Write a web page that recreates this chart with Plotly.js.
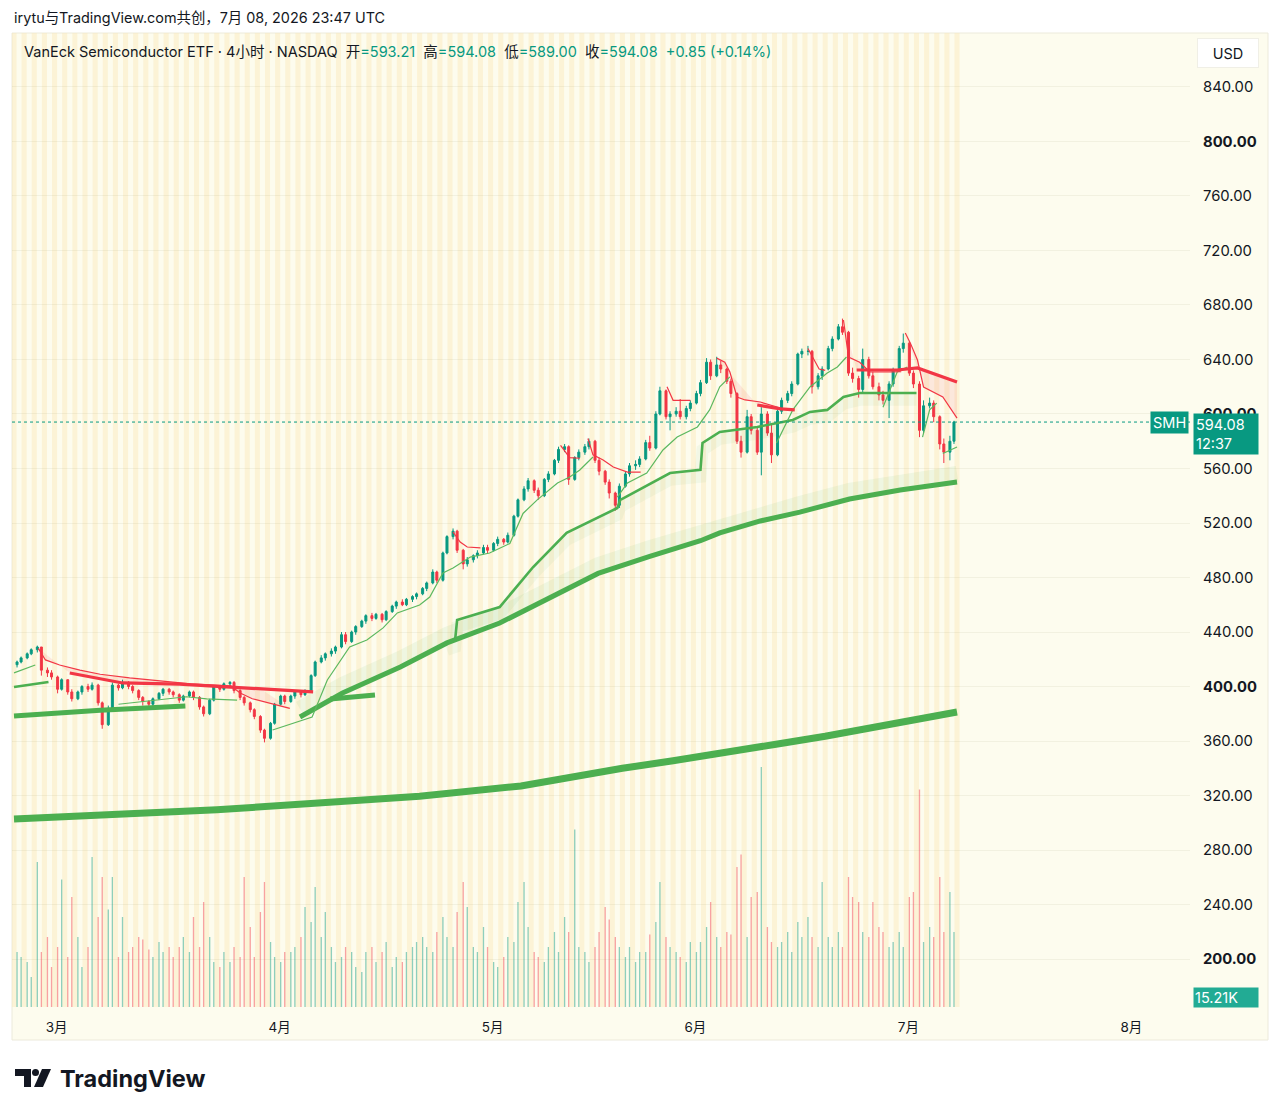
<!DOCTYPE html>
<html><head><meta charset="utf-8">
<script src="https://cdn.plot.ly/plotly-3.0.1.min.js"></script>
<style>html,body{margin:0;padding:0;background:#fff;}#chart{width:1280px;height:1115px;}</style>
</head><body><div id="chart"></div>
<script>
// ---------- DATA (4h-ish candles, two per trading day) ----------
const openP = [
416,418,421,424,427,429,412,410,407,398,
405,396,391,396,400,398,401,388,372,384,
401,399,403,400,397,392,389,387,391,395,
398,396,394,390,393,396,392,385,380,390,
400,398,402,403,397,392,388,383,378,368,
362,373,387,393,389,393,396,394,397,408,
418,421,424,426,429,438,433,440,444,448,
452,450,453,449,455,459,462,460,464,466,
468,472,476,484,478,498,510,514,500,490,
493,496,498,502,500,505,508,506,511,525,
537,545,551,544,540,552,556,566,574,576,
552,568,572,576,580,566,558,550,542,533,
547,556,562,563,567,579,575,600,617,598,
600,602,598,604,608,615,623,638,628,636,
633,624,615,580,572,598,588,572,600,586,
570,602,610,615,622,644,646,646,620,628,
633,648,655,664,660,630,626,618,640,628,
620,614,610,622,632,648,652,630,622,588,
606,608,598,578,572,580];
const highP = [
419,422,425,428,430,429,414,412,408,406,
405,398,397,401,402,403,402,389,386,403,
402,405,404,401,398,393,390,392,396,399,
399,397,395,394,397,397,393,386,391,401,
401,403,404,404,398,393,389,384,379,369,
374,388,394,394,394,397,397,398,409,419,
423,425,428,430,440,440,441,445,449,453,
454,454,454,456,460,463,464,465,467,469,
473,477,486,485,499,511,516,515,501,495,
497,500,504,504,506,510,509,513,526,538,
547,553,552,546,553,558,567,576,578,577,
569,574,578,582,581,568,559,552,543,549,
558,564,566,569,581,584,602,620,618,602,
605,611,606,610,617,625,641,640,642,639,
634,626,616,584,603,600,590,605,602,593,
604,612,617,624,645,648,650,647,630,635,
650,657,666,670,661,634,628,648,642,631,
623,617,624,634,650,659,653,632,624,610,
612,610,599,582,584,595];
const lowP = [
414,417,420,423,425,408,407,405,395,397,
394,389,390,394,396,397,386,369,371,383,
397,398,398,395,390,386,384,385,390,393,
394,392,388,389,392,390,383,378,379,389,
396,397,400,395,390,386,381,376,366,359,
361,372,386,387,388,391,392,393,396,407,
417,419,422,424,428,431,432,438,443,446,
448,449,447,448,454,457,459,459,462,464,
467,470,475,476,477,497,508,498,486,488,
491,494,497,498,499,503,504,505,510,524,
536,543,542,537,539,550,555,564,572,548,
551,566,570,574,564,555,548,538,529,531,
546,554,559,561,566,573,574,599,596,588,
598,596,596,602,607,613,622,625,627,630,
622,612,578,568,571,585,570,555,584,564,
569,600,608,613,621,641,643,615,618,625,
632,646,654,658,628,623,612,616,626,618,
610,607,597,620,631,645,628,619,583,586,
604,594,574,564,566,578];
const closeP = [
418,421,424,427,429,412,410,407,398,405,
396,391,396,400,398,401,388,372,384,401,
399,403,400,397,392,389,387,391,395,398,
396,394,390,393,396,392,385,380,390,400,
398,402,403,397,392,388,383,378,368,362,
373,387,393,389,393,396,394,397,408,418,
421,424,426,429,438,433,440,444,448,452,
450,453,449,455,459,462,460,464,466,468,
472,476,484,478,498,510,514,500,490,493,
496,498,502,500,505,508,506,511,525,537,
545,551,544,540,552,556,566,574,576,552,
568,572,576,580,566,558,550,542,533,547,
556,562,563,567,579,575,600,617,598,600,
602,598,604,608,615,623,638,628,636,633,
624,615,580,572,598,588,572,600,586,570,
602,610,615,622,644,646,646,620,628,633,
648,655,664,660,630,626,618,640,628,620,
614,610,622,632,648,652,630,622,588,606,
608,598,578,572,580,594.08];
// volume, millions of shares
const volumeM = [
2.2,2.0,1.8,1.2,5.8,2.2,2.8,1.6,2.4,5.1,
2.0,4.4,2.8,1.6,2.4,6.0,3.6,5.2,3.9,5.2,
2.0,3.6,2.2,2.4,2.8,2.7,2.3,2.0,2.6,2.2,
2.4,2.0,2.4,2.8,2.2,3.6,2.4,4.2,2.8,1.8,
1.6,2.2,1.8,2.4,2.0,5.2,3.2,2.0,3.8,5.0,
2.6,2.0,1.8,2.2,2.2,2.4,2.8,4.0,3.4,4.8,
2.8,3.8,2.4,1.8,2.0,2.4,2.2,1.6,1.4,2.2,
2.4,1.8,2.2,2.6,1.6,2.0,1.8,2.2,2.4,2.6,
2.8,2.4,2.2,3.0,3.6,2.8,2.4,3.8,5.0,4.0,
2.4,2.2,3.2,2.4,1.8,1.6,2.0,2.8,2.6,4.2,
5.0,3.2,2.2,2.0,1.8,2.4,3.0,2.2,3.6,3.0,
7.1,2.4,2.2,1.8,2.4,3.0,4.0,3.5,2.8,2.4,
2.0,2.4,1.8,2.2,2.2,2.9,3.4,5.0,2.8,2.4,
2.2,2.0,1.8,2.6,2.2,2.6,3.2,4.2,2.8,2.4,
3.0,2.9,5.6,6.1,2.8,4.4,4.6,9.6,3.2,2.6,
2.4,2.6,3.0,2.2,3.4,2.8,3.6,2.8,2.4,5.0,
2.8,2.4,3.0,2.4,5.2,4.4,4.2,3.0,2.8,4.2,
3.2,3.0,2.4,2.6,3.0,2.4,4.4,4.6,8.7,2.6,
3.2,2.8,5.2,3.0,4.6,3.0];

// indicator lines (x = trading-day index, null = gap)
const maLongDays = [0,10,20,30,40,50,55,60,65,70,75,80,85,90,93];
const maLongVals = [302.7,305.5,309.5,314.5,319.5,327,334,340,345.5,351,357.5,363.5,370,376.5,381.3];
const maSlowDays = [28.2,32.4,38.1,42.7,47.9,52.9,57.6,62.7,67.7,69.6,73.6,77.5,82.4,87.4,93];
const maSlowVals = [377.6,395.2,414.3,432,446.6,465,483,495.5,507,512.7,521.5,528,537.6,544.2,550.1];
const maLeftDays = [0,8.5,16.9,null,31.2,35.6];
const maLeftVals = [378.3,382.6,385.7,null,390.9,393.8];
const midLeftDays = [0,3.4];
const midLeftVals = [399.6,403.3];
const midStopDays = [42.7,43.5,43.7,47.9,51.2,54.5,59.5,59.8,64.7,67.7,67.9,69.6,73.3,76.8,78.5,80.2,81.8,83.4,89];
const midStopVals = [432,434,448.8,458.3,487.7,512.7,531,537,556.7,559,578.7,586.8,590.5,595.6,601.5,603,612.5,615.4,615.4];
const fastUpDays = [0,1,2.1,null,10.3,13,15,17,19,22,null,
  25.5,29.4,30.9,33.1,34.8,36.4,37.8,40,41,42.3,43.3,45,46.9,48.9,50.2,51.6,53.6,54.8,55.8,57.1,null,
  59.5,60.5,62.4,64,65.4,67.4,68.6,69.6,70.6,null,75.2,76.8,78.5,80.2,81.2,82.1,null,
  85.7,87.1,88.1,null,89.6,90.3,91,null,91.6,93];
const fastUpVals = [410,413,415.8,null,387,389,391,392.5,391,390,null,
  368.1,377.6,404.8,429,434.1,443,454,459.8,465.7,483.3,487,495,498,505,527,537,549.4,553.8,558.9,568.4,null,
  539,549.4,556.7,573.6,583.1,590.5,603,620,627.2,null,578.7,603,619.8,630.1,634.5,641.8,null,
  605,630.8,634.5,null,583,603,608,null,571,575.8];
const fastDownDays = [2.4,3.1,4.5,6.5,8.5,11.4,14.4,17.4,21.3,null,
  21.3,22.3,23.5,24.8,26,27.2,null,43.3,44,44.7,46,null,53.9,54.8,55.8,null,
  56.6,57.1,58.1,59.1,60.5,61.8,null,64.4,65,66.7,null,
  69.3,70.1,70.6,71.3,72.1,73.6,75.6,76.8,null,78.3,78.8,79.4,80,null,
  81.8,82.3,83.4,84.4,86.4,87.5,null,87.9,88.4,89.1,89.7,91.6,93];
const fastDownVals = [428,419.5,415.8,412,409,406.3,404.2,402,400.4,null,
  401,395.2,391,388.6,386,384,null,513.4,506,502.4,501.7,null,577,568,567.5,null,
  582,570,566.2,561.1,557.4,557.4,null,620,610,610,null,
  641,638,630.8,612.5,610.3,608.8,604.4,603,null,648,641,633,632,null,
  669,641.8,638,630.8,630.8,631,null,659.4,652,639.6,619.8,612.5,597];
const slowDownDays = [5.5,8,10.7,16.3,19.5,24.2,29.5,null,73.3,75.6,77,null,83.1,87.1,89.1,91.6,93];
const slowDownVals = [409.9,406.3,402.6,401.8,400.4,398.9,396,null,606.6,603.7,603,null,632.3,632.3,633.8,627,623.5];

const monthStartDay = [4,26,47,67,88,110];
const monthLabels = ['3月','4月','5月','6月','7月','8月'];
const yTickVals = [200,240,280,320,360,400,440,480,520,560,600,640,680,720,760,800,840];
const tradingDays = 93;
const hdrOpen = 593.21, hdrHigh = 594.08, hdrLow = 589.00, hdrClose = 594.08, hdrChg = 0.85, hdrPct = 0.14;
const lastVolumeLabel = '15.21K';
const countdown = '12:37';

// ---------- helpers ----------
const W = 1280, H = 1115, ML = 12, MR = 90, MT = 33, MB = 108;
const PW = W - ML - MR, PH = H - MT - MB;
const px2x = p => (p - ML) / PW;
const py2y = p => (H - MB - p) / PH;
const UP = '#089981', DOWN = '#f23645', GREEN = '#4caf50';
const FONT = "Inter, 'Noto Sans CJK SC', sans-serif";

const candleX = openP.map((_, i) => Math.floor(i / 2) + (i % 2 ? 0.7 : 0.3));

function segs(xs, ys) {
  const out = []; let cur = null;
  xs.forEach((x, i) => {
    if (x === null || ys[i] === null) { cur = null; return; }
    if (!cur) { cur = {x: [], y: []}; out.push(cur); }
    cur.x.push(x); cur.y.push(ys[i]);
  });
  return out;
}
function bands(aX, aY, bX, bY, color) {
  const res = [];
  const A = segs(aX, aY), B = segs(bX, bY);
  A.forEach(a => {
    const lo = Math.min(...a.x), hi = Math.max(...a.x);
    B.forEach(b => {
      const px = [], py = [];
      b.x.forEach((x, i) => { if (x >= lo && x <= hi) { px.push(x); py.push(b.y[i]); } });
      if (px.length) {
        res.push({type: 'scatter', mode: 'none', fill: 'toself', fillcolor: color, hoverinfo: 'skip',
          x: a.x.concat(px.slice().reverse()), y: a.y.concat(py.slice().reverse()), yaxis: 'y2', showlegend: false});
      }
    });
  });
  return res;
}
function line(xs, ys, color, width) {
  return {type: 'scatter', mode: 'lines', x: xs, y: ys, yaxis: 'y2', hoverinfo: 'skip', showlegend: false,
    connectgaps: false, line: {color: color, width: width}};
}

// ---------- traces ----------
const traces = [];
traces.push({type: 'bar', x: candleX, y: volumeM, yaxis: 'y', width: 0.13, hoverinfo: 'skip', showlegend: false,
  marker: {color: closeP.map((c, i) => c >= openP[i] ? 'rgba(8,153,129,0.45)' : 'rgba(242,54,69,0.45)'), line: {width: 0}}});
traces.push(line(maSlowDays, maSlowVals.map(v => v + 6), 'rgba(76,175,80,0.08)', 16));
traces.push(line(midStopDays, midStopVals.map(v => v - 5), 'rgba(76,175,80,0.06)', 12));
bands(fastDownDays, fastDownVals, slowDownDays, slowDownVals, 'rgba(242,54,69,0.10)').forEach(t => traces.push(t));
traces.push({type: 'candlestick', x: candleX, open: openP, high: highP, low: lowP, close: closeP, yaxis: 'y2',
  hoverinfo: 'skip', showlegend: false, whiskerwidth: 0,
  increasing: {line: {color: UP, width: 1}, fillcolor: UP},
  decreasing: {line: {color: DOWN, width: 1}, fillcolor: DOWN}});
traces.push(line(maLongDays, maLongVals, GREEN, 7));
traces.push(line(maSlowDays, maSlowVals, GREEN, 5));
traces.push(line(maLeftDays, maLeftVals, GREEN, 5));
traces.push(line(midLeftDays, midLeftVals, GREEN, 2.6));
traces.push(line(midStopDays, midStopVals, GREEN, 2.6));
traces.push(line(fastUpDays, fastUpVals, '#5cb85f', 1.2));
traces.push(line(slowDownDays, slowDownVals, DOWN, 3.2));
traces.push(line(fastDownDays, fastDownVals, DOWN, 1.2));

// ---------- shapes ----------
const shapes = [];
shapes.push({type: 'rect', xref: 'paper', yref: 'paper', layer: 'below',
  x0: px2x(12), x1: px2x(1268), y0: py2y(1040), y1: py2y(33),
  fillcolor: '#fdfcee', line: {color: '#eceadb', width: 1}});
for (let d = 0; d <= tradingDays; d++) {
  shapes.push({type: 'rect', xref: 'x', yref: 'paper', layer: 'below', x0: d - 0.25, x1: d + 0.25, y0: 0, y1: 1,
    fillcolor: 'rgba(250,232,180,0.42)', line: {width: 0}});
}
const lastClose = closeP[closeP.length - 1];
shapes.push({type: 'line', xref: 'paper', yref: 'y2', x0: 0, x1: 1, y0: lastClose, y1: lastClose,
  line: {color: UP, width: 1, dash: 'dot'}});
// TradingView logo
const P = (x, y) => px2x(x) + ',' + py2y(y);
shapes.push({type: 'path', xref: 'paper', yref: 'paper', fillcolor: '#131722', line: {width: 0},
  path: 'M' + P(15, 1069) + ' L' + P(31, 1069) + ' L' + P(31, 1087) + ' L' + P(24, 1087) + ' L' + P(24, 1076) + ' L' + P(15, 1076) + ' Z'});
shapes.push({type: 'circle', xref: 'paper', yref: 'paper', fillcolor: '#131722', line: {width: 0},
  x0: px2x(32), x1: px2x(39), y0: py2y(1076), y1: py2y(1069)});
shapes.push({type: 'path', xref: 'paper', yref: 'paper', fillcolor: '#131722', line: {width: 0},
  path: 'M' + P(42, 1069) + ' L' + P(51, 1069) + ' L' + P(43, 1087) + ' L' + P(34, 1087) + ' Z'});

// ---------- annotations ----------
const g = s => '<span style="color:' + UP + '">' + s + '</span>';
const sp = '\u00a0\u00a0';
const annotations = [
  {xref: 'paper', yref: 'paper', x: px2x(12), y: py2y(18), xanchor: 'left', yanchor: 'middle', showarrow: false,
    text: 'irytu与TradingView.com共创，7月 08, 2026 23:47 UTC', font: {family: FONT, size: 14.4, color: '#131722'}},
  {xref: 'paper', yref: 'paper', x: px2x(22), y: py2y(52), xanchor: 'left', yanchor: 'middle', showarrow: false,
    text: 'VanEck Semiconductor ETF · 4小时 · NASDAQ' + sp + '开' + g('=' + hdrOpen.toFixed(2)) + sp + '高' + g('=' + hdrHigh.toFixed(2)) +
      sp + '低' + g('=' + hdrLow.toFixed(2)) + sp + '收' + g('=' + hdrClose.toFixed(2)) + sp + g('+' + hdrChg.toFixed(2) + ' (+' + hdrPct.toFixed(2) + '%)'),
    font: {family: FONT, size: 14.5, color: '#131722'}},
  {xref: 'paper', yref: 'paper', x: px2x(1197), y: py2y(53), xanchor: 'left', yanchor: 'middle', showarrow: false,
    text: 'USD', align: 'center', width: 58, height: 26, bgcolor: '#ffffff', bordercolor: '#f0efe6', borderwidth: 1, borderpad: 1,
    font: {family: FONT, size: 14.5, color: '#131722'}},
  {xref: 'paper', yref: 'y2', x: px2x(1189), y: lastClose, xanchor: 'right', yanchor: 'middle', showarrow: false,
    text: 'SMH', bgcolor: UP, borderpad: 2, font: {family: FONT, size: 14.5, color: '#ffffff'}},
  {xref: 'paper', yref: 'y2', x: px2x(1193), y: lastClose, yshift: 9, xanchor: 'left', yanchor: 'top', showarrow: false,
    text: lastClose.toFixed(2) + '<br>' + countdown, align: 'left', width: 60, bgcolor: UP, borderpad: 2,
    font: {family: FONT, size: 14.5, color: '#ffffff'}},
  {xref: 'paper', yref: 'paper', x: px2x(1193), y: py2y(997), xanchor: 'left', yanchor: 'middle', showarrow: false,
    text: lastVolumeLabel, align: 'left', width: 62, bgcolor: '#22ab94', borderpad: 1,
    font: {family: FONT, size: 14.5, color: '#ffffff'}},
  {xref: 'paper', yref: 'paper', x: px2x(58), y: py2y(1078), xanchor: 'left', yanchor: 'middle', showarrow: false,
    text: '<b>TradingView</b>', font: {family: FONT, size: 23.5, color: '#131722'}}
];

const layout = {
  width: W, height: H, margin: {l: ML, r: MR, t: MT, b: MB},
  paper_bgcolor: '#ffffff', plot_bgcolor: 'rgba(0,0,0,0)', showlegend: false,
  font: {family: FONT, color: '#131722'},
  xaxis: {range: [(ML - 14) / 10.14, (ML + PW - 14) / 10.14], showgrid: false, zeroline: false, showline: false,
    rangeslider: {visible: false}, ticks: '', tickvals: monthStartDay.map(d => d + 0.2), ticktext: monthLabels,
    tickfont: {family: FONT, size: 13.5, color: '#131722'}, ticklabelstandoff: 10, fixedrange: true},
  yaxis: {range: [0, PH / 25], visible: false, fixedrange: true},
  yaxis2: {overlaying: 'y', side: 'right', range: [164.8, 879.6], tickvals: yTickVals,
    ticktext: yTickVals.map(v => v % 200 === 0 ? '<b>' + v.toFixed(2) + '</b>' : v.toFixed(2)),
    showgrid: true, gridcolor: 'rgba(120,110,60,0.08)', gridwidth: 1, zeroline: false, showline: false, ticks: '',
    tickfont: {family: FONT, size: 14.8, color: '#131722'}, ticklabelstandoff: 12, fixedrange: true},
  shapes: shapes, annotations: annotations
};
Plotly.newPlot('chart', traces, layout, {displayModeBar: false, staticPlot: true});
</script></body></html>
